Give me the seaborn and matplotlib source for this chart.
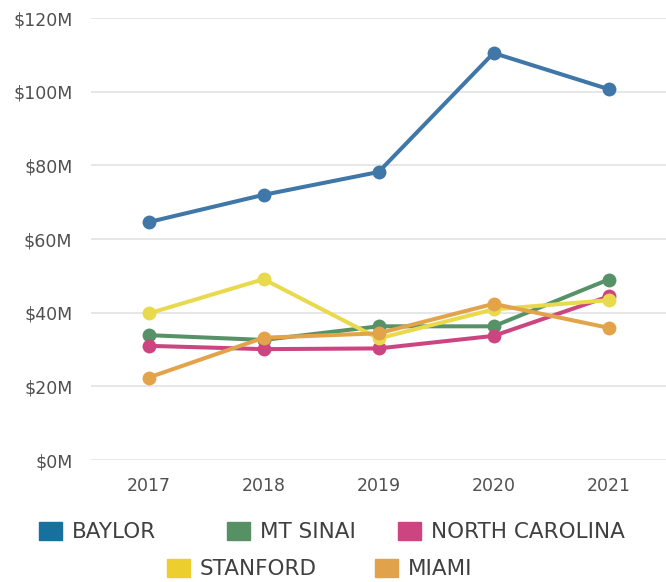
import pandas as pd
import matplotlib
matplotlib.use("Agg")
import matplotlib.pyplot as plt
import matplotlib.patches as patches
import matplotlib.ticker as mticker
import seaborn as sns

# --- data (millions of dollars) ---
years = [2017, 2018, 2019, 2020, 2021]
baylor = [64.6, 72.0, 78.2, 110.5, 100.7]
mt_sinai = [33.9, 32.6, 36.3, 36.3, 49.0]
north_carolina = [31.0, 30.1, 30.3, 33.7, 44.4]
stanford = [39.8, 49.1, 33.0, 40.9, 43.4]
miami = [22.4, 33.2, 34.4, 42.4, 35.9]

series_names = ["BAYLOR", "MT SINAI", "NORTH CAROLINA", "STANFORD", "MIAMI"]
line_colors = ["#3f77a9", "#579167", "#cc4580", "#e9d94c", "#e2a34b"]
legend_colors = ["#18709f", "#579065", "#cc4580", "#eccf2e", "#e0a24a"]

rows = []
for name, vals in zip(series_names, [baylor, mt_sinai, north_carolina, stanford, miami]):
    for yr, v in zip(years, vals):
        rows.append({"Year": yr, "Value": v, "School": name})
df = pd.DataFrame(rows)

sns.set_theme(style="white")
plt.rcParams['font.family'] = ['DejaVu Sans']

fig = plt.figure(figsize=(6.66, 5.82), dpi=100)
ax = fig.add_axes([0.137, 0.2096, 0.863, 0.7594])

palette = dict(zip(series_names, line_colors))
sns.lineplot(
    data=df, x="Year", y="Value", hue="School", hue_order=series_names,
    palette=palette, marker="o", markersize=10, markeredgewidth=0,
    linewidth=2.9, ax=ax, legend=False, sort=False,
)

ax.set_xlim(2016.5, 2021.5)
ax.set_ylim(0, 120)
ax.set_xticks(years)
ax.set_yticks(range(0, 121, 20))
ax.yaxis.set_major_formatter(mticker.FuncFormatter(lambda v, p: f"${int(v)}M"))
ax.set_xlabel(None)
ax.set_ylabel(None)
ax.grid(True, axis='y', color='#e3e3e3', linewidth=1.2)
ax.grid(False, axis='x')
ax.set_axisbelow(True)
for s in ax.spines.values():
    s.set_visible(False)
ax.tick_params(axis='both', length=0, labelsize=12.5, colors='#505050')
ax.tick_params(axis='y', pad=13.5)
ax.tick_params(axis='x', pad=12)

# --- legend: one small legend per entry so the rows line up like the original ---
handles = [patches.Patch(color=c, label=n) for n, c in zip(series_names, legend_colors)]
legend_spots = [(39, 532), (227, 532), (398, 532), (167, 569), (375, 569)]  # pixel left/centre
W, H = 666, 582
for h, (px, py) in zip(handles, legend_spots):
    fig.legend(handles=[h], loc='center left', bbox_to_anchor=(px / W, 1 - py / H),
               frameon=False, borderpad=0, borderaxespad=0,
               handlelength=1.07, handleheight=0.93, handletextpad=0.45,
               fontsize=15.5, labelcolor='#404040')

fig.savefig("out.png", dpi=100)
